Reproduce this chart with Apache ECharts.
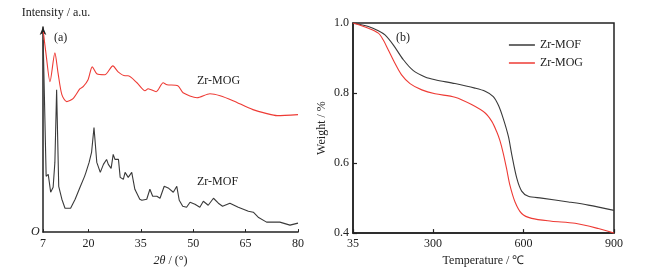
<!DOCTYPE html>
<html>
<head>
<meta charset="utf-8">
<script src="https://cdn.jsdelivr.net/npm/echarts@6/dist/echarts.min.js"></script>
<style>
  html, body { margin: 0; padding: 0; background: #fff; }
  #chart { width: 670px; height: 272px; }
</style>
</head>
<body>
<div id="chart"></div>
<script>
  // (a) XRD, 2theta vs intensity (arbitrary units)
  const xrdTicks = [7, 20, 35, 50, 65, 80]
  const mogTheta = [7.1, 7.9, 9.0, 10.4, 11.3, 12.4, 13.8, 15.6, 17.6, 18.5, 19.9, 21.1, 22.4, 24.7, 27.0, 28.5, 30.5, 31.3, 33.9, 36.2, 37.1, 39.4, 41.4, 42.5, 45.6, 47.1, 51.1, 54.8, 57.7, 61.4, 67.1, 71.1, 74.0, 80.0]
  const mogInt = [201, 178, 151, 180, 160, 138, 131, 134, 144, 146, 153, 166, 159, 158, 167, 161, 157, 157, 150, 142, 144, 141, 150, 148, 147, 140, 135, 139, 137, 132, 123, 119, 117, 118]
  const mofTheta = [7.05, 7.9, 8.5, 9.2, 9.9, 10.4, 10.9, 11.5, 12.4, 13.3, 14.9, 16.2, 17.6, 18.9, 19.3, 20.2, 20.9, 21.6, 22.4, 23.4, 24.3, 25.2, 25.7, 26.5, 27.1, 27.6, 28.6, 29.1, 30.0, 30.5, 31.4, 32.4, 33.3, 34.7, 35.3, 36.7, 37.6, 38.4, 39.6, 40.5, 41.7, 43.0, 44.3, 45.3, 46.0, 47.0, 48.1, 49.1, 50.5, 51.9, 52.9, 54.3, 55.8, 57.2, 58.4, 60.5, 62.9, 65.8, 67.2, 68.6, 71.0, 74.8, 77.7, 80.0]
  const mofInt = [193, 56, 58, 40, 45, 70, 143, 46, 33, 24, 24, 33, 45, 56, 60, 70, 80, 105, 70, 60, 68, 73, 68, 64, 78, 73, 73, 55, 53, 60, 55, 60, 43, 33, 32, 33, 43, 36, 36, 34, 46, 44, 40, 46, 32, 26, 25, 30, 28, 25, 31, 27, 34, 29, 26, 29, 25, 21, 20, 15, 10, 10, 7, 9, 9]

  // (b) TGA, temperature vs weight fraction
  const tgaTicks = [35, 300, 600, 900]
  const mofTemp = [35, 86, 119, 141, 169, 202, 235, 274, 307, 373, 439, 473, 500, 517, 533, 550, 561, 578, 594, 616, 660, 749, 815, 900]
  const mofWeight = [1.0, 0.990, 0.978, 0.966, 0.937, 0.895, 0.864, 0.846, 0.838, 0.827, 0.814, 0.805, 0.790, 0.765, 0.727, 0.676, 0.625, 0.556, 0.520, 0.505, 0.500, 0.489, 0.480, 0.465]
  const mogTemp = [35, 86, 119, 135, 152, 174, 196, 224, 263, 307, 373, 428, 473, 495, 511, 522, 533, 544, 555, 572, 594, 627, 693, 771, 848, 900]
  const mogWeight = [1.0, 0.985, 0.971, 0.952, 0.923, 0.885, 0.852, 0.827, 0.809, 0.798, 0.788, 0.767, 0.743, 0.719, 0.690, 0.664, 0.628, 0.584, 0.537, 0.489, 0.456, 0.442, 0.434, 0.428, 0.413, 0.400]

  const pair = (xs, ys) => xs.map((x, i) => [x, ys[i]])

  const FONT = 'Liberation Serif'
  const BLACK = '#3a3a3a'
  const RED = '#ee3b35'
  const AXIS = '#222'

  const chart = echarts.init(document.getElementById('chart'))

  const option = {
    animation: false,
    textStyle: { fontFamily: FONT, color: '#222' },
    grid: [
      { left: 43, right: 372, top: 27, bottom: 39 },
      { left: 353, right: 56, top: 23, bottom: 38, show: true, borderColor: AXIS, borderWidth: 1.5, backgroundColor: 'transparent' }
    ],
    legend: {
      right: 82,
      top: 34,
      orient: 'vertical',
      itemWidth: 26,
      itemHeight: 10,
      itemGap: 6,
      icon: 'path://M0,4 L26,4 L26,5.5 L0,5.5 Z',
      textStyle: { fontFamily: FONT, fontSize: 12, color: '#222' },
      data: ['Zr-MOF', 'Zr-MOG']
    },
    xAxis: [{
      gridIndex: 0,
      type: 'value',
      min: 7,
      max: 80,
      axisLine: { lineStyle: { color: AXIS, width: 1.5 } },
      axisTick: { customValues: xrdTicks, inside: true, length: 3, lineStyle: { color: AXIS, width: 1 } },
      splitLine: { show: false },
      axisLabel: { customValues: xrdTicks, fontSize: 12, color: '#222', margin: 6 },
      name: '{it|2θ} / (°)',
      nameLocation: 'middle',
      nameGap: 22,
      nameTextStyle: {
        fontSize: 12, color: '#222',
        rich: { it: { fontStyle: 'italic', fontSize: 12, fontFamily: FONT } }
      }
    }, {
      gridIndex: 1,
      type: 'value',
      min: 35,
      max: 900,
      axisLine: { lineStyle: { color: AXIS, width: 1.5 } },
      axisTick: { customValues: tgaTicks, inside: true, length: 4, lineStyle: { color: AXIS, width: 1.2 } },
      splitLine: { show: false },
      axisLabel: { customValues: tgaTicks, fontSize: 12, color: '#222', margin: 5 },
      name: 'Temperature / ℃',
      nameLocation: 'middle',
      nameGap: 21,
      nameTextStyle: { fontSize: 12, color: '#222' }
    }],
    yAxis: [{
      gridIndex: 0,
      type: 'value',
      min: 0,
      max: 206,
      axisLine: { show: true, symbol: ['none', 'arrow'], symbolSize: [5, 8], lineStyle: { color: AXIS, width: 1.5 } },
      axisTick: { show: false },
      axisLabel: { show: false },
      splitLine: { show: false },
      name: 'Intensity / a.u.',
      nameLocation: 'end',
      nameGap: 8,
      nameTextStyle: { fontSize: 12, color: '#222', padding: [0, 0, 0, 26] }
    }, {
      gridIndex: 1,
      type: 'value',
      min: 0.4,
      max: 1.0,
      interval: 0.2,
      axisLine: { lineStyle: { color: AXIS, width: 1.5 } },
      axisTick: { inside: true, length: 4, lineStyle: { color: AXIS, width: 1.2 } },
      splitLine: { show: false },
      axisLabel: { fontSize: 12, color: '#222', margin: 4, formatter: v => v.toFixed(1) },
      name: 'Weight / %',
      nameLocation: 'middle',
      nameGap: 25,
      nameTextStyle: { fontSize: 12, color: '#222' }
    }],
    graphic: [
      { type: 'text', left: 31, top: 226, style: { text: 'O', font: 'italic 12px "Liberation Serif"', fill: '#222' } },
      { type: 'text', left: 54, top: 32, style: { text: '(a)', font: '12px "Liberation Serif"', fill: '#222' } },
      { type: 'text', left: 396, top: 32, style: { text: '(b)', font: '12px "Liberation Serif"', fill: '#222' } },
      { type: 'text', left: 197, top: 75, style: { text: 'Zr-MOG', font: '12px "Liberation Serif"', fill: '#222' } },
      { type: 'text', left: 197, top: 176, style: { text: 'Zr-MOF', font: '12px "Liberation Serif"', fill: '#222' } }
    ],
    series: [{
      name: 'XRD Zr-MOG',
      type: 'line',
      xAxisIndex: 0, yAxisIndex: 0,
      data: pair(mogTheta, mogInt),
      showSymbol: false,
      smooth: 0.25,
      lineStyle: { color: RED, width: 1.1 },
      itemStyle: { color: RED }
    }, {
      name: 'XRD Zr-MOF',
      type: 'line',
      xAxisIndex: 0, yAxisIndex: 0,
      data: pair(mofTheta, mofInt),
      showSymbol: false,
      smooth: false,
      lineStyle: { color: BLACK, width: 1.1 },
      itemStyle: { color: BLACK }
    }, {
      name: 'Zr-MOF',
      type: 'line',
      xAxisIndex: 1, yAxisIndex: 1,
      data: pair(mofTemp, mofWeight),
      showSymbol: false,
      smooth: 0.3,
      lineStyle: { color: BLACK, width: 1.1 },
      itemStyle: { color: BLACK }
    }, {
      name: 'Zr-MOG',
      type: 'line',
      xAxisIndex: 1, yAxisIndex: 1,
      data: pair(mogTemp, mogWeight),
      showSymbol: false,
      smooth: 0.3,
      lineStyle: { color: RED, width: 1.1 },
      itemStyle: { color: RED }
    }]
  }

  chart.setOption(option)
</script>
</body>
</html>
